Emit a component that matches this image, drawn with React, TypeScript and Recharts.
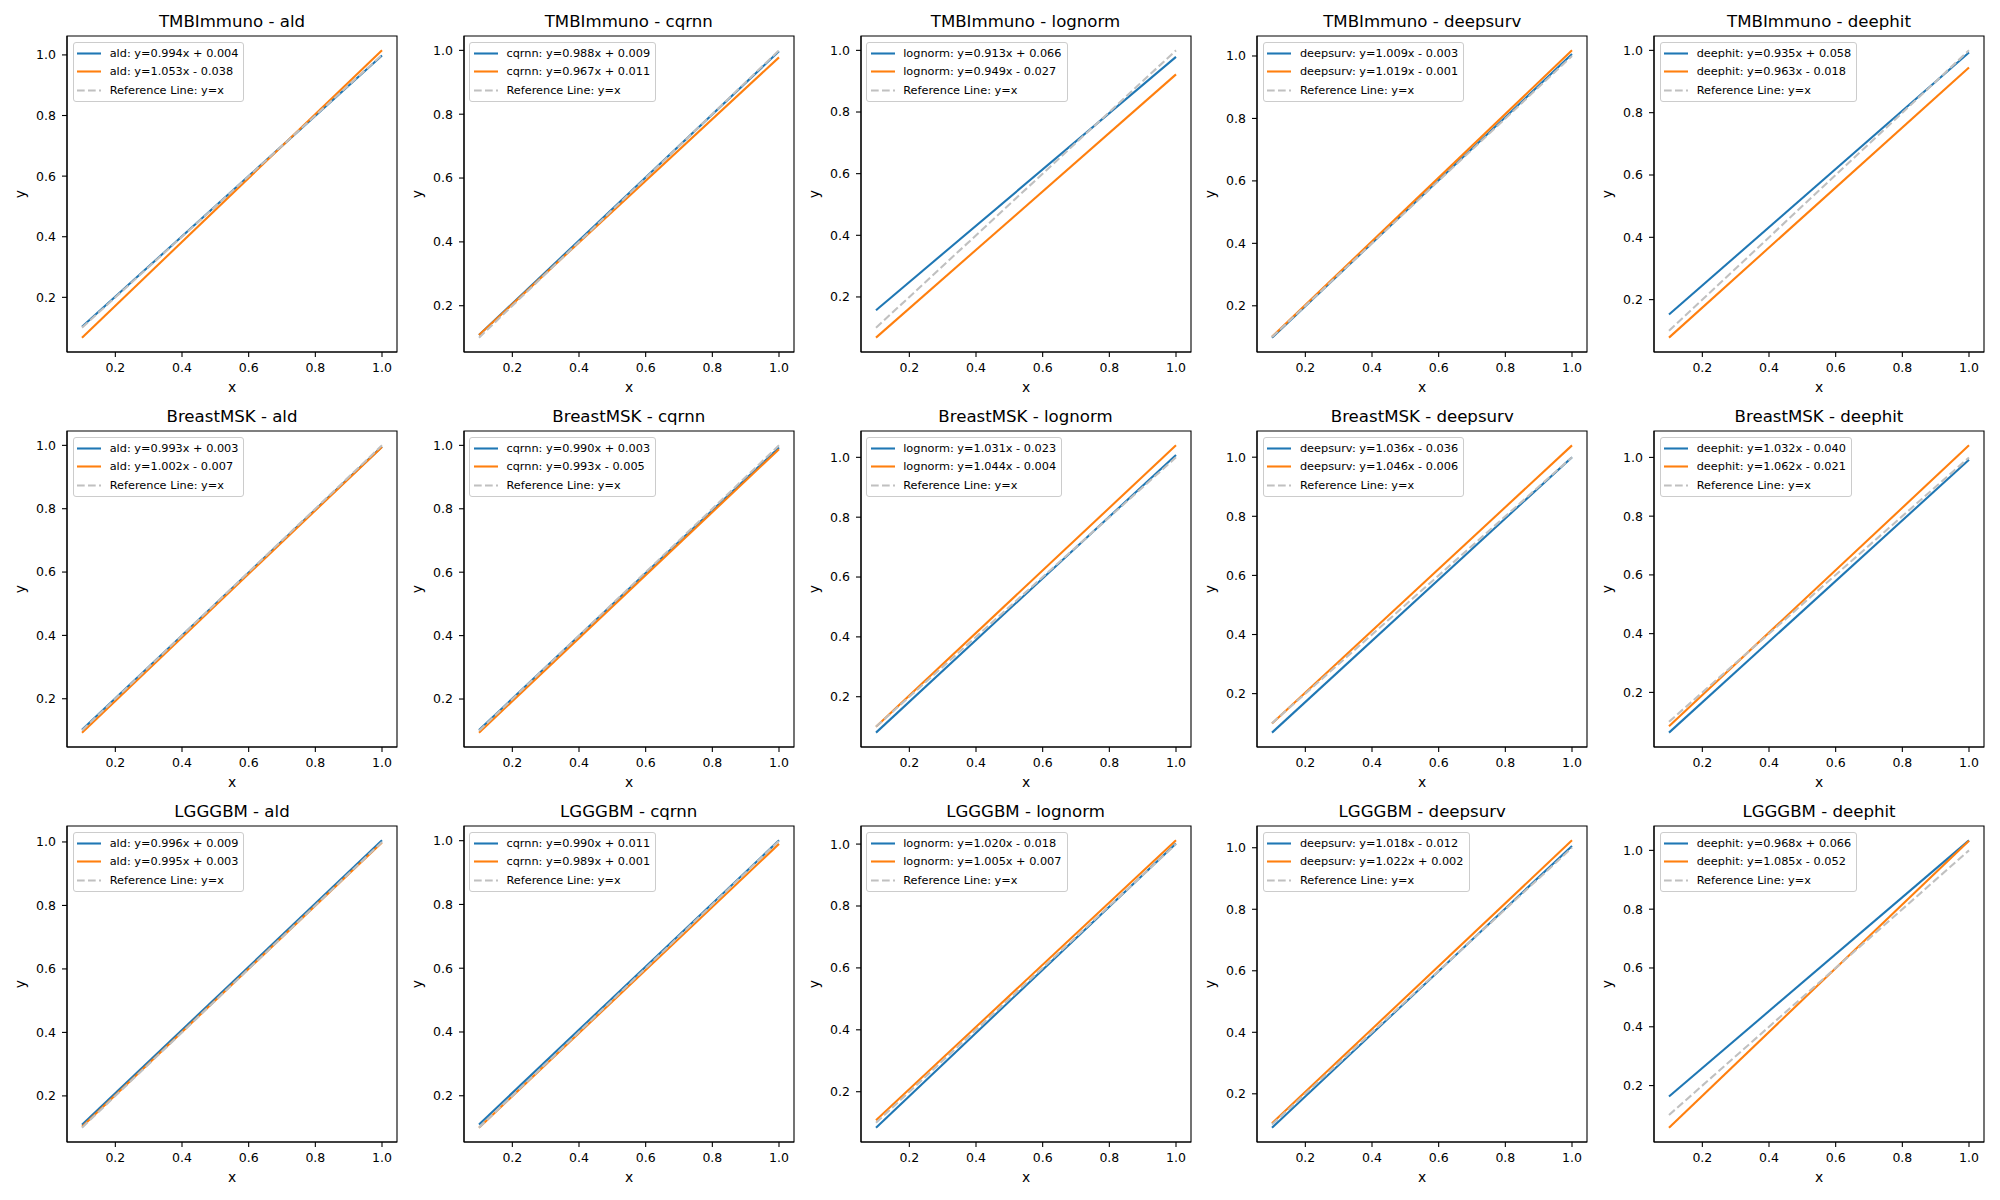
import { Legend, Line, LineChart, ReferenceArea, XAxis, YAxis } from "recharts";

const datasets = ["TMBImmuno", "BreastMSK", "LGGGBM"];
const models = ["ald", "cqrnn", "lognorm", "deepsurv", "deephit"];

const xPoints = [0.1, 1.0];
const xTicks = [0.2, 0.4, 0.6, 0.8, 1.0];
const yTicks = [0.2, 0.4, 0.6, 0.8, 1.0];
const refLine = [0.1, 1.0];

// fitted line labels, one row per dataset
const blueFits = [
  ["y=0.994x + 0.004", "y=0.988x + 0.009", "y=0.913x + 0.066", "y=1.009x - 0.003", "y=0.935x + 0.058"],
  ["y=0.993x + 0.003", "y=0.990x + 0.003", "y=1.031x - 0.023", "y=1.036x - 0.036", "y=1.032x - 0.040"],
  ["y=0.996x + 0.009", "y=0.990x + 0.011", "y=1.020x - 0.018", "y=1.018x - 0.012", "y=0.968x + 0.066"],
];
const orangeFits = [
  ["y=1.053x - 0.038", "y=0.967x + 0.011", "y=0.949x - 0.027", "y=1.019x - 0.001", "y=0.963x - 0.018"],
  ["y=1.002x - 0.007", "y=0.993x - 0.005", "y=1.044x - 0.004", "y=1.046x - 0.006", "y=1.062x - 0.021"],
  ["y=0.995x + 0.003", "y=0.989x + 0.001", "y=1.005x + 0.007", "y=1.022x + 0.002", "y=1.085x - 0.052"],
];

// line values at x=0.1 and x=1.0
const blueEnds = [
  [[0.103, 0.998], [0.108, 0.997], [0.157, 0.979], [0.098, 1.006], [0.152, 0.993]],
  [[0.102, 0.996], [0.102, 0.993], [0.080, 1.008], [0.068, 1.0], [0.063, 0.992]],
  [[0.109, 1.005], [0.11, 1.001], [0.084, 1.002], [0.090, 1.006], [0.163, 1.034]],
];
const orangeEnds = [
  [[0.067, 1.015], [0.108, 0.978], [0.068, 0.922], [0.101, 1.018], [0.078, 0.945]],
  [[0.093, 0.995], [0.094, 0.988], [0.100, 1.04], [0.099, 1.04], [0.085, 1.041]],
  [[0.103, 0.998], [0.100, 0.990], [0.108, 1.012], [0.104, 1.024], [0.057, 1.033]],
];

const BLUE = "#1f77b4";
const ORANGE = "#ff7f0e";
const GREY = "#c0c0c0";
const FONT = "'DejaVu Sans', sans-serif";

const PLOT_W = 330;
const PLOT_H = 316;
const M = { top: 30, right: 4, left: 22, bottom: 5 };
const Y_W = 48;
const X_H = 40;

const LegendBox = ({ model, blue, orange }: { model: string; blue: string; orange: string }) => {
  const rows = [
    { label: `${model}: ${blue}`, color: BLUE, dash: undefined },
    { label: `${model}: ${orange}`, color: ORANGE, dash: undefined },
    { label: "Reference Line: y=x", color: GREY, dash: "7.7 3.3" },
  ];
  return (
    <div
      style={{
        display: "inline-block",
        background: "rgba(255,255,255,0.8)",
        border: "1px solid #cccccc",
        borderRadius: 3,
        padding: "3.5px 5px 4px 3.5px",
        fontFamily: FONT,
        fontSize: 11.3,
        color: "#000",
        whiteSpace: "nowrap",
      }}
    >
      {rows.map((r, i) => (
        <div
          key={r.label}
          style={{ display: "flex", alignItems: "center", height: 13, marginTop: i ? 5.6 : 0 }}
        >
          <svg width={24} height={13} style={{ marginRight: 8.5 }}>
            <line x1={0} x2={24} y1={6.5} y2={6.5} stroke={r.color} strokeWidth={2.08} strokeDasharray={r.dash} />
          </svg>
          <span style={{ lineHeight: "13px" }}>{r.label}</span>
        </div>
      ))}
    </div>
  );
};

function Panel({ row, col }: { row: number; col: number }) {
  const left = 67 + col * 396.75;
  const top = 36 + row * 395;
  const data = xPoints.map((x, i) => ({
    x,
    blue: blueEnds[row][col][i],
    orange: orangeEnds[row][col][i],
    ref: refLine[i],
  }));
  const all = data.flatMap((d) => [d.blue, d.orange, d.ref]);
  const lo = Math.min(...all);
  const hi = Math.max(...all);
  const pad = (hi - lo) * 0.05;
  const yDomain = [lo - pad, hi + pad];
  const xDomain = [0.1 - 0.045, 1.0 + 0.045];
  const tick = { fontSize: 12.5, fill: "#000", fontFamily: FONT };

  return (
    <>
      <div
        style={{
          position: "absolute",
          left,
          top: top - 24.1,
          width: PLOT_W,
          textAlign: "center",
          fontSize: 16.6,
          lineHeight: "20px",
          fontFamily: FONT,
          color: "#000",
          whiteSpace: "nowrap",
        }}
      >
        {`${datasets[row]} - ${models[col]}`}
      </div>
      <div style={{ position: "absolute", left: left - M.left - Y_W, top: top - M.top }}>
        <LineChart
          width={M.left + Y_W + PLOT_W + M.right}
          height={M.top + PLOT_H + X_H + M.bottom}
          data={data}
          margin={M}
        >
          <XAxis
            type="number"
            dataKey="x"
            domain={xDomain}
            ticks={xTicks}
            allowDataOverflow
            tickFormatter={(v: number) => v.toFixed(1)}
            height={X_H}
            tick={tick}
            tickSize={5}
            tickMargin={6}
            stroke="#000"
            strokeWidth={1.1}
            label={{ value: "x", position: "insideBottom", offset: 0, style: { fontSize: 13.9, fill: "#000", fontFamily: FONT } }}
          />
          <YAxis
            type="number"
            domain={yDomain}
            ticks={yTicks}
            allowDataOverflow
            tickFormatter={(v: number) => v.toFixed(1)}
            width={Y_W}
            tick={tick}
            tickSize={5}
            tickMargin={6}
            stroke="#000"
            strokeWidth={1.1}
            label={{
              value: "y",
              angle: -90,
              position: "insideLeft",
              offset: 1,
              style: { textAnchor: "middle", fontSize: 13.9, fill: "#000", fontFamily: FONT },
            }}
          />
          <Line type="linear" dataKey="blue" stroke={BLUE} strokeWidth={2.08} dot={false} isAnimationActive={false} />
          <Line type="linear" dataKey="orange" stroke={ORANGE} strokeWidth={2.08} dot={false} isAnimationActive={false} />
          <Line
            type="linear"
            dataKey="ref"
            stroke={GREY}
            strokeWidth={2.08}
            strokeDasharray="7.7 3.3"
            dot={false}
            isAnimationActive={false}
          />
          <ReferenceArea
            x1={xDomain[0]}
            x2={xDomain[1]}
            y1={yDomain[0]}
            y2={yDomain[1]}
            fill="none"
            stroke="#000"
            strokeWidth={1.1}
            ifOverflow="visible"
          />
          <Legend
            layout="vertical"
            align="center"
            verticalAlign="middle"
            wrapperStyle={{ left: M.left + Y_W + 5.7, top: M.top + 6, width: "auto", height: "auto" }}
            content={() => (
              <LegendBox model={models[col]} blue={blueFits[row][col]} orange={orangeFits[row][col]} />
            )}
          />
        </LineChart>
      </div>
    </>
  );
}

export default function App() {
  return (
    <div
      style={{
        position: "absolute",
        left: 0,
        top: 0,
        width: 2000,
        height: 1200,
        background: "#fff",
        overflow: "hidden",
      }}
    >
      {datasets.map((_, r) => models.map((__, c) => <Panel key={`${r}-${c}`} row={r} col={c} />))}
    </div>
  );
}
